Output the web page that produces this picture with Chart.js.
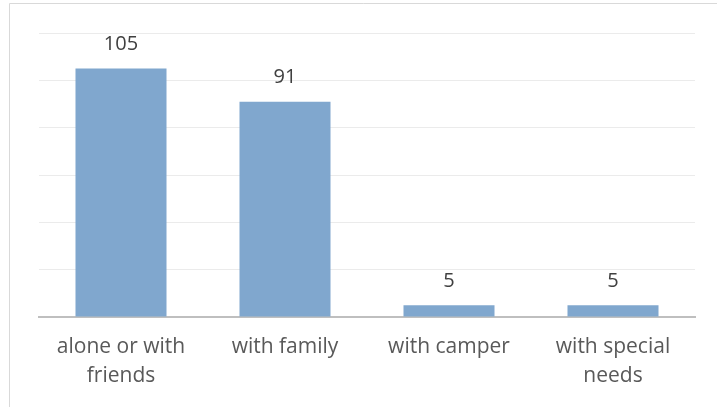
<!DOCTYPE html>
<html>
<head>
<meta charset="utf-8">
<script src="https://cdn.jsdelivr.net/npm/chart.js@4"></script>
<style>
  html, body { margin: 0; padding: 0; background: #fff; }
  #wrap { width: 717px; height: 407px; }
</style>
</head>
<body>
<div id="wrap"><canvas id="myChart" width="717" height="407"></canvas></div>
<script>
var categories = [
  ['alone or with', 'friends'],
  'with family',
  'with camper',
  ['with special', 'needs']
];
var counts = [105, 91, 5, 5];
var yTicks = { min: 0, max: 120, step: 20 };

// frame around the chart (top and left edges visible in the picture)
var framePlugin = {
  id: 'frame',
  beforeDraw: function (chart) {
    var c = chart.ctx;
    c.save();
    c.strokeStyle = '#d9d9d9';
    c.lineWidth = 1;
    c.beginPath();
    c.moveTo(9.5, 407);
    c.lineTo(9.5, 3.5);
    c.lineTo(717, 3.5);
    c.stroke();
    c.restore();
  }
};

// value labels above the bars
var valueLabels = {
  id: 'valueLabels',
  afterDatasetsDraw: function (chart) {
    var c = chart.ctx;
    var meta = chart.getDatasetMeta(0);
    c.save();
    c.font = '20px "Open Sans", sans-serif';
    c.fillStyle = '#404040';
    c.textAlign = 'center';
    c.textBaseline = 'middle';
    meta.data.forEach(function (bar, i) {
      c.fillText(chart.data.datasets[0].data[i], bar.x, bar.y - 24);
    });
    c.restore();
  }
};

var ctx = document.getElementById('myChart').getContext('2d');
var myChart = new Chart(ctx, {
  type: 'bar',
  data: {
    labels: categories,
    datasets: [{
      data: counts,
      backgroundColor: 'rgb(128, 167, 206)',
      borderWidth: 0,
      categoryPercentage: 1,
      barPercentage: 0.555
    }]
  },
  options: {
    responsive: false,
    animation: false,
    layout: { padding: { left: 39, right: 22, top: 33, bottom: 0 } },
    plugins: {
      legend: { display: false },
      tooltip: { enabled: false }
    },
    scales: {
      x: {
        grid: { display: false, drawTicks: false },
        border: { display: true, color: '#bfbfbf', width: 2 },
        ticks: {
          color: '#595959',
          padding: 16,
          maxRotation: 0,
          autoSkip: false,
          font: { family: '"Open Sans", sans-serif', size: 21, lineHeight: 1.38 }
        },
        afterFit: function (scale) { scale.height = 90; }
      },
      y: {
        min: yTicks.min,
        max: yTicks.max,
        ticks: { display: false, stepSize: yTicks.step },
        grid: { color: '#ebebeb', lineWidth: 1, drawTicks: false },
        border: { display: false },
        afterFit: function (scale) { scale.width = 0; }
      }
    }
  },
  plugins: [framePlugin, valueLabels]
});
</script>
</body>
</html>
